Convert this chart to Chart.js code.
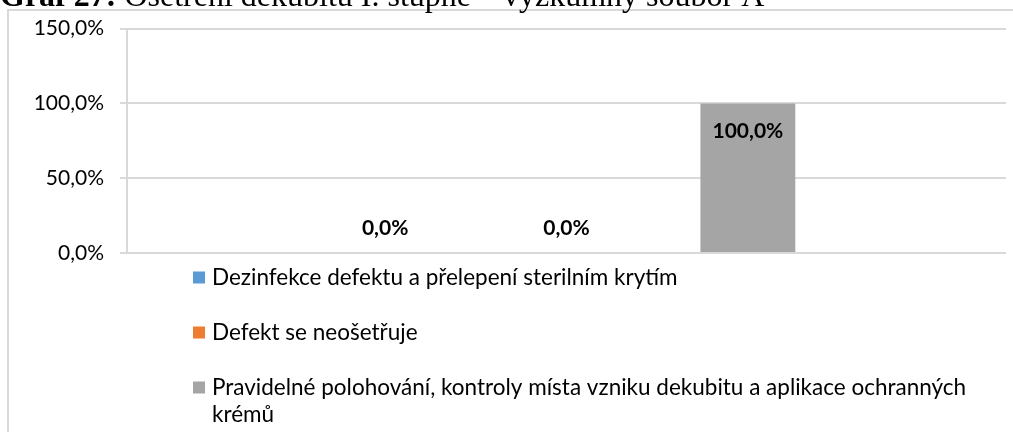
<!DOCTYPE html>
<html>
<head>
<meta charset="utf-8">
<script src="https://cdn.jsdelivr.net/npm/chart.js@4"></script>
<style>
  html, body { margin: 0; padding: 0; background: #fff; }
  #wrap { width: 1013px; height: 432px; overflow: hidden; }
</style>
</head>
<body>
<div id="wrap"><canvas id="graf27" width="1013" height="432"></canvas></div>
<script>
// data
const categories = [""];
const seriesLabels = [
  "Dezinfekce defektu a přelepení sterilním krytím",
  "Defekt se neošetřuje",
  "Pravidelné polohování, kontroly místa vzniku dekubitu a aplikace ochranných krémů"
];
const seriesValues = [0, 0, 100];
const yTickValues = [0, 50, 100, 150];
const titleBold = "Graf 27:";
const titleRest = " Ošetření dekubitu I. stupně – výzkumný soubor A";

const seriesColors = ["#5b9bd5", "#ed7d31", "#a5a5a5"];
const FONT = "Lato";

function pct(v) {
  return v.toFixed(1).replace(".", ",") + "%";
}

// frame + cut-off title
const framePlugin = {
  id: "frame",
  beforeDraw(chart) {
    const ctx = chart.ctx;
    ctx.save();
    ctx.fillStyle = "#fff";
    ctx.fillRect(0, 0, chart.width, chart.height);
    ctx.strokeStyle = "#d9d9d9";
    ctx.lineWidth = 2;
    ctx.strokeRect(8, 10, chart.width + 20, chart.height + 20);
    ctx.fillStyle = "#000";
    ctx.textBaseline = "alphabetic";
    ctx.font = "bold 32px 'Liberation Serif'";
    ctx.fillText(titleBold, 0, 6);
    let w = ctx.measureText(titleBold).width;
    ctx.font = "32px 'Liberation Serif'";
    ctx.fillText(titleRest, w, 6);
    ctx.restore();
  },
};

// value labels, Excel "inside end"
const labelPlugin = {
  id: "valueLabels",
  afterDatasetsDraw(chart) {
    const ctx = chart.ctx;
    ctx.save();
    ctx.font = "bold 21px " + FONT;
    ctx.fillStyle = "#000";
    ctx.textAlign = "center";
    ctx.textBaseline = "middle";
    chart.data.datasets.forEach(function (ds, i) {
      chart.getDatasetMeta(i).data.forEach(function (bar, j) {
        let y = Math.min(bar.y + 28, bar.base - 25);
        ctx.fillText(pct(ds.data[j]), bar.x, y);
      });
    });
    ctx.restore();
  },
};

// vertical legend under the plot, with wrapping
const legendPlugin = {
  id: "vertLegend",
  afterDraw(chart) {
    const ctx = chart.ctx;
    const area = chart.chartArea;
    ctx.save();
    ctx.font = "22.5px " + FONT;
    ctx.textBaseline = "middle";
    let rowY = area.bottom + 24.5;
    chart.data.datasets.forEach(function (ds) {
      ctx.fillStyle = ds.backgroundColor;
      ctx.fillRect(193, rowY - 6, 12, 12);
      ctx.fillStyle = "#000";
      // wrap words
      let words = ds.label.split(" ");
      let lines = [];
      let line = "";
      words.forEach(function (w) {
        let test = line ? line + " " + w : w;
        if (ctx.measureText(test).width > 785 && line) {
          lines.push(line);
          line = w;
        } else {
          line = test;
        }
      });
      lines.push(line);
      lines.forEach(function (l, k) {
        ctx.fillText(l, 212, rowY + k * 27);
      });
      rowY += 55;
    });
    ctx.restore();
  },
};

const datasets = seriesLabels.map(function (label, i) {
  return {
    label: label,
    data: [seriesValues[i]],
    backgroundColor: seriesColors[i],
    borderWidth: 0,
    categoryPercentage: 0.619,
    barPercentage: 0.523,
  };
});

const ctx = document.getElementById("graf27").getContext("2d");
const chart = new Chart(ctx, {
  type: "bar",
  data: {
    labels: categories,
    datasets: datasets,
  },
  options: {
    responsive: false,
    animation: false,
    devicePixelRatio: 1,
    layout: {
      padding: { left: 0, right: 7, top: 28, bottom: 179 },
    },
    plugins: {
      legend: { display: false },
      tooltip: { enabled: false },
      title: { display: false },
    },
    scales: {
      x: {
        display: false,
      },
      y: {
        min: 0,
        max: 150,
        afterFit(scale) {
          scale.width = 127;
        },
        afterBuildTicks(scale) {
          scale.ticks = yTickValues.map(function (v) { return { value: v }; });
        },
        ticks: {
          padding: 16,
          color: "#000",
          font: { family: FONT, size: 21 },
          callback: function (v) { return pct(v); },
        },
        grid: {
          color: "#d9d9d9",
          lineWidth: 2,
          tickLength: 7,
        },
        border: {
          color: "#d9d9d9",
          width: 2,
        },
      },
    },
  },
  plugins: [framePlugin, labelPlugin, legendPlugin],
});
</script>
</body>
</html>
